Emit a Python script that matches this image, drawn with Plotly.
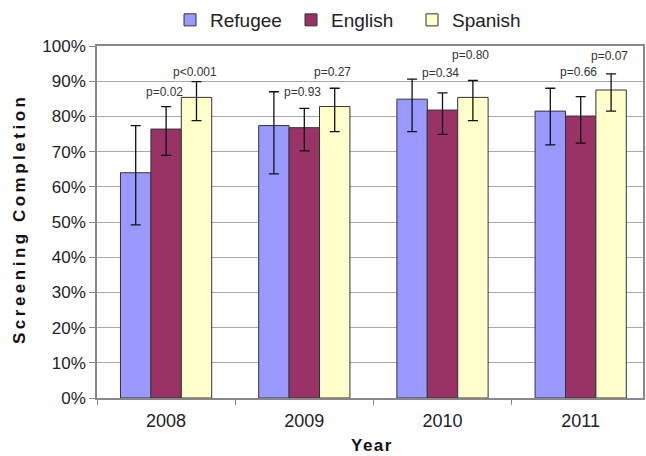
import plotly.graph_objects as go

years = ["2008", "2009", "2010", "2011"]
series = ["Refugee", "English", "Spanish"]
colors = ["#9999FF", "#993366", "#FFFFCC"]

refugee = [64.0, 77.4, 84.9, 81.5]
refugee_hi = [77.4, 87.0, 90.6, 88.0]
refugee_lo = [49.2, 63.7, 75.7, 71.9]

english = [76.4, 76.8, 81.8, 80.1]
english_hi = [82.8, 82.3, 86.7, 85.6]
english_lo = [68.9, 70.2, 74.9, 72.4]

spanish = [85.4, 82.8, 85.4, 87.5]
spanish_hi = [89.9, 88.0, 90.2, 92.1]
spanish_lo = [78.8, 75.7, 78.8, 81.5]

# p-value labels and the heights (in %) where they are written
p_english = ["p=0.02", "p=0.93", "p=0.34", "p=0.66"]
p_spanish = ["p<0.001", "p=0.27", "p=0.80", "p=0.07"]
p_english_level = [87.0, 86.9, 92.3, 92.6]
p_spanish_level = [92.5, 92.6, 97.4, 97.2]

W, H = 646, 456
L, R, T, B = 97, 3, 46, 58
plot_w = W - L - R
plot_h = H - T - B
cat_px = 138.2
x_hi = -0.5 + plot_w / cat_px
bargap = 0.34
bar_px = cat_px * (1 - bargap) / 3

FONT = "Liberation Sans, Arial, sans-serif"

fig = go.Figure()
vals = [refugee, english, spanish]
his = [refugee_hi, english_hi, spanish_hi]
los = [refugee_lo, english_lo, spanish_lo]
for name, c, v, hi, lo in zip(series, colors, vals, his, los):
    fig.add_trace(go.Bar(
        x=years, y=[a / 100 for a in v], name=name,
        marker=dict(color=c, line=dict(color="#333333", width=1)),
        error_y=dict(type="data", symmetric=False,
                     array=[(h - a) / 100 for h, a in zip(hi, v)],
                     arrayminus=[(a - l) / 100 for a, l in zip(v, lo)],
                     color="#111111", thickness=1.3, width=5),
    ))

annotations = []
for i in range(len(years)):
    annotations.append(dict(x=i, y=p_english_level[i] / 100, xref="x", yref="y",
                            text=p_english[i], showarrow=False, xshift=-2,
                            xanchor="center", yanchor="middle",
                            font=dict(family=FONT, size=12, color="#333333")))
    annotations.append(dict(x=i, y=p_spanish_level[i] / 100, xref="x", yref="y",
                            text=p_spanish[i], showarrow=False, xshift=bar_px - 2,
                            xanchor="center", yanchor="middle",
                            font=dict(family=FONT, size=12, color="#333333")))

annotations.append(dict(
    x=(19 - L) / plot_w, y=(H - B - 219) / plot_h, xref="paper", yref="paper",
    xanchor="center", yanchor="middle",
    text='<span style="letter-spacing:3.5px"><b>Screening Completion</b></span>',
    textangle=-90, showarrow=False,
    font=dict(family=FONT, size=17, color="#111111")))
annotations.append(dict(
    x=(372 - L) / plot_w, y=-(446 - (H - B)) / plot_h, xref="paper", yref="paper",
    xanchor="center", yanchor="middle",
    text='<span style="letter-spacing:1.5px"><b>Year</b></span>',
    showarrow=False, font=dict(family=FONT, size=17, color="#111111")))

fig.update_layout(
    width=W, height=H,
    margin=dict(l=L, r=R, t=T, b=B, autoexpand=False),
    paper_bgcolor="white", plot_bgcolor="white",
    barmode="group", bargap=bargap, bargroupgap=0,
    font=dict(family=FONT, size=17, color="#222222"),
    showlegend=True,
    legend=dict(orientation="h", x=(184 - 14 - L) / plot_w, xanchor="left",
                y=1 + (T - 20) / plot_h, yanchor="middle",
                entrywidth=76, entrywidthmode="pixels",
                font=dict(family=FONT, size=19, color="#222222"),
                traceorder="normal"),
    annotations=annotations,
    xaxis=dict(type="category", range=[-0.5, x_hi], autorange=False,
               tickson="boundaries",
               ticks="outside", ticklen=5, tickcolor="#888888",
               showline=True, linecolor="#888888", linewidth=1.5,
               mirror=True, showgrid=False, ticklabelstandoff=6,
               tickfont=dict(family=FONT, size=18, color="#222222")),
    yaxis=dict(range=[0, 1], dtick=0.1, tickformat=".0%",
               ticks="outside", ticklen=6, tickcolor="#888888",
               showline=True, linecolor="#888888", linewidth=1.5,
               mirror=True, showgrid=True, gridcolor="#a8a8a8", gridwidth=1,
               zeroline=False,
               tickfont=dict(family=FONT, size=17, color="#222222")),
)

fig.write_html("out.html")
